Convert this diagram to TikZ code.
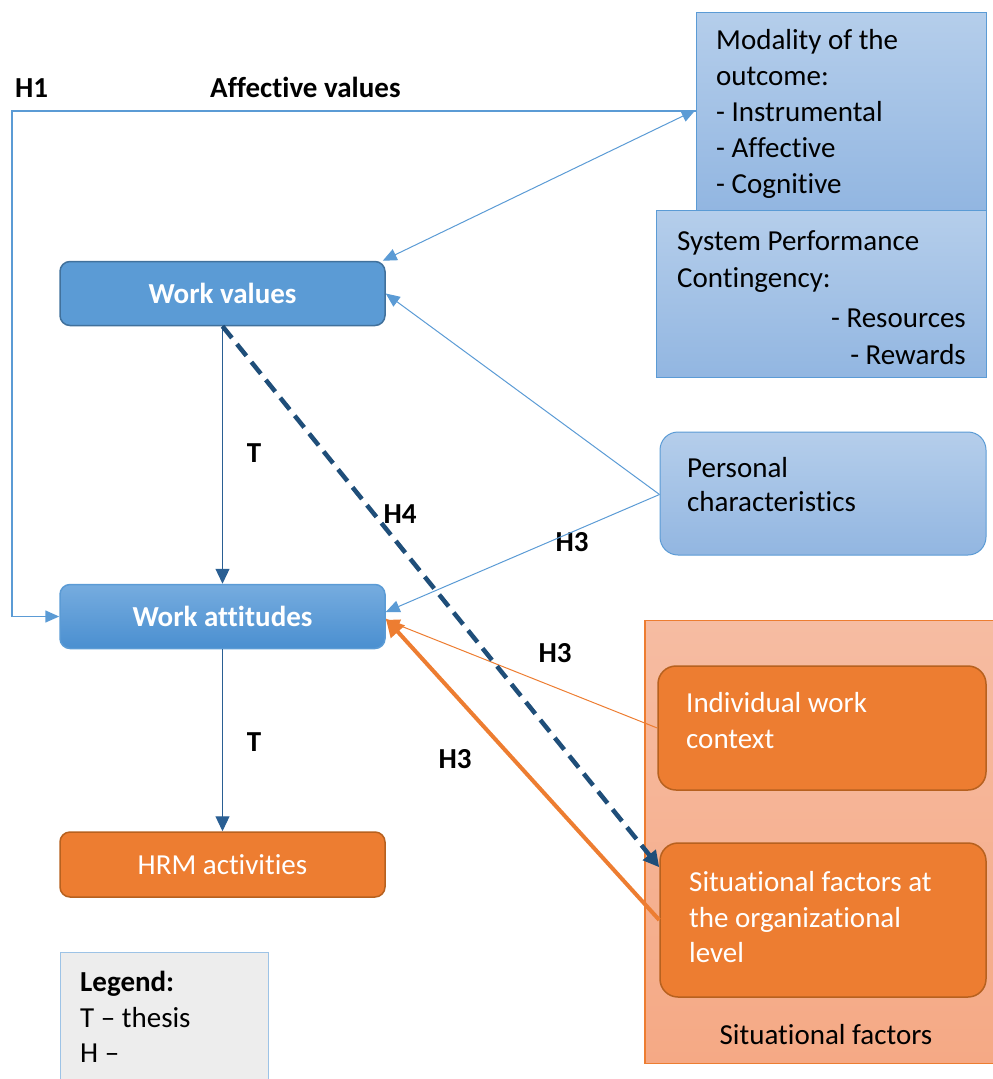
\documentclass[tikz,border=0pt]{standalone}
\usepackage{fontspec}
\setmainfont{Carlito}[Ligatures=NoCommon]
\usetikzlibrary{arrows.meta,calc}

\definecolor{lineblue}{HTML}{5B9BD5}
\definecolor{darkblue}{HTML}{1F4E79}
\definecolor{tblue}{HTML}{2A5F93}
\definecolor{wvfill}{HTML}{5B9BD5}
\definecolor{wvdraw}{HTML}{41719C}
\definecolor{watop}{HTML}{76ACDF}
\definecolor{wabot}{HTML}{4A8FD0}
\definecolor{ltop}{HTML}{B5CEEB}
\definecolor{lbot}{HTML}{92B6E1}
\definecolor{orange}{HTML}{ED7D31}
\definecolor{orangedraw}{HTML}{B7611F}
\definecolor{saltop}{HTML}{F6BCA2}
\definecolor{salbot}{HTML}{F5A985}
\definecolor{legfill}{HTML}{EDEDED}
\definecolor{legdraw}{HTML}{9DC3E6}

\tikzset{
  body/.style={font=\fontsize{29}{36}\selectfont},
  bodybf/.style={font=\fontsize{29}{36}\selectfont\bfseries},
  box/.style={rectangle, inner sep=0pt, body},
  mainbox/.style={box, rounded corners=10pt, minimum width=325pt, minimum height=64pt, line width=1.5pt, text=white},
  lightbox/.style={box, top color=ltop, bottom color=lbot, draw=lineblue, line width=1pt},
  orangebox/.style={box, rounded corners=18pt, fill=orange, draw=orangedraw, line width=1.5pt},
  txt/.style={inner sep=0pt, anchor=base west, body},
  wtxt/.style={txt, text=white},
  lbl/.style={inner sep=0pt, anchor=base, bodybf},
  thinblue/.style={draw=lineblue, line width=1pt, -{Triangle[length=14pt,width=12pt]}},
  tarrow/.style={draw=tblue, line width=1.2pt, -{Triangle[length=15pt,width=14pt]}},
}

\begin{document}
\begin{tikzpicture}[x=1pt,y=-1pt]
\useasboundingbox (0,0) rectangle (993,1079);
\clip (0,0) rectangle (993,1079);

% situational factors group
\node[box, top color=saltop, bottom color=salbot, draw=orange, line width=1.2pt,
      minimum width=360pt, minimum height=443pt] (sit) at (825,842) {};
\node[txt, anchor=base] (sitlbl) at (826,1044) {Situational factors};

% outcome modality and system contingency
\node[lightbox, minimum width=290pt, minimum height=198pt] (mod) at (841,111) {};
\node[txt] (mod1) at (716,49) {Modality of the};
\node[txt] (mod2) at (716,85) {outcome:};
\node[txt] (mod3) at (716,121) {- Instrumental};
\node[txt] (mod4) at (716,157) {- Affective};
\node[txt] (mod5) at (716,193) {- Cognitive};

\node[lightbox, minimum width=330pt, minimum height=167pt] (spc) at (821,294) {};
\node[txt] (spc1) at (677,250) {System Performance};
\node[txt] (spc2) at (677,287) {Contingency:};
\node[txt, anchor=base east] (spc3) at (966,327) {- Resources};
\node[txt, anchor=base east] (spc4) at (966,364) {- Rewards};

% personal characteristics
\node[lightbox, rounded corners=18pt, minimum width=326pt, minimum height=123pt] (pc) at (823,493.5) {};
\node[txt] (pc1) at (687,477) {Personal};
\node[txt] (pc2) at (687,511) {characteristics};

% situational sub-boxes
\node[orangebox, minimum width=328pt, minimum height=124pt] (iwc) at (822,728) {};
\node[wtxt] (iwc1) at (686,712) {Individual work};
\node[wtxt] (iwc2) at (686,748) {context};

\node[orangebox, minimum width=326pt, minimum height=154pt] (sol) at (823,920) {};
\node[wtxt] (sol1) at (689,891) {Situational factors at};
\node[wtxt] (sol2) at (689,927) {the organizational};
\node[wtxt] (sol3) at (689,962) {level};

% main chain
\node[mainbox, fill=wvfill, draw=wvdraw, bodybf] (wv) at (222.5,293.5) {Work values};
\node[mainbox, top color=watop, bottom color=wabot, draw=lineblue, bodybf] (wa) at (222.5,616.5) {Work attitudes};
\node[mainbox, fill=orange, draw=orangedraw, minimum height=65pt] (hrm) at (222.5,864.5) {HRM activities};

% legend
\node[box, fill=legfill, draw=legdraw, line width=1pt, minimum width=208pt, minimum height=140pt] (leg) at (164,1022) {};
\node[txt, bodybf] (leg1) at (80,991) {Legend:};
\node[txt] (leg2) at (80,1027) {T -- thesis};
\node[txt] (leg3) at (80,1062) {H --};

% labels
\node[lbl, anchor=base west] (h1) at (15,97) {H1};
\node[lbl, anchor=base west] (aff) at (210,97) {Affective values};
\node[lbl] (t1) at (254,462) {T};
\node[lbl] (t2) at (254,751) {T};
\node[lbl] (h4) at (400,523) {H4};
\node[lbl] (h3a) at (572,551) {H3};
\node[lbl] (h3b) at (555,662) {H3};
\node[lbl] (h3c) at (455,768) {H3};

% connectors
\coordinate (loopx) at (12,0);
\draw[thinblue, line width=1.5pt] (mod.west) -- (mod.west -| loopx) |- (wa.west);
\draw[thinblue, {Triangle[length=14pt,width=12pt]}-{Triangle[length=14pt,width=12pt]}]
  ([xshift=-3pt]wv.north east) -- ([yshift=1pt]mod.west);
\draw[thinblue] ([yshift=-1pt]pc.west) -- (wv.east);
\draw[thinblue] ([yshift=-1pt]pc.west) -- ([yshift=4.5pt]wa.east);
\draw[tarrow] (wv.south) -- (wa.north);
\draw[tarrow] (wa.south) -- (hrm.north);
\draw[draw=orange, line width=1pt, -{Triangle[length=14pt,width=12pt]}] (iwc.west) -- ([yshift=-3.5pt]wa.east);
\draw[draw=orange, line width=4pt, -{Triangle[length=18pt,width=18pt]}] (sol.west) -- ([yshift=-2pt]wa.east);
\draw[draw=darkblue, line width=4.5pt, dash pattern=on 15pt off 8pt, -{Triangle[length=16pt,width=16pt]}]
  (wv.south) -- ([yshift=-25pt]sol.north west);
\end{tikzpicture}
\end{document}
